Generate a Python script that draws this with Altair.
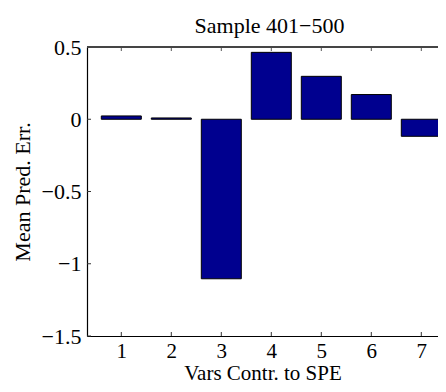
import altair as alt
import pandas as pd

variables = [1, 2, 3, 4, 5, 6, 7]
mean_pred_err = [0.023, 0.009, -1.104, 0.463, 0.297, 0.171, -0.118]
x_ticks = [1, 2, 3, 4, 5, 6, 7]
y_ticks = [-1.5, -1.0, -0.5, 0.0, 0.5]

W, H = 351, 289
FONT = "Liberation Serif"
FS = 22
FSX = 21
BAR_COLOR = "#00008F"

bars_df = pd.DataFrame({"var": variables, "err": mean_pred_err})
xt_df = pd.DataFrame({"t": x_ticks})
yt_df = pd.DataFrame({"t": y_ticks})

x_scale = alt.Scale(domain=[0.314, 7.334], nice=False, zero=False)
y_scale = alt.Scale(domain=[-1.5, 0.5], nice=False)

x_axis = alt.Axis(
    values=x_ticks, format="d", ticks=False, grid=False,
    domainColor="black", domainWidth=1.2,
    labelFont=FONT, labelFontSize=FSX, labelColor="black", labelPadding=4,
    title="Vars Contr. to SPE", titleFont=FONT, titleFontSize=FSX,
    titleFontWeight="normal", titleColor="black", titlePadding=1,
)
y_axis = alt.Axis(
    values=y_ticks, format="~g", ticks=False, grid=False,
    domainColor="black", domainWidth=1.2,
    labelFont=FONT, labelFontSize=FS, labelColor="black", labelPadding=6,
    title="Mean Pred. Err.", titleFont=FONT, titleFontSize=FS,
    titleFontWeight="normal", titleColor="black", titlePadding=7,
)

bars = alt.Chart(bars_df).transform_calculate(
    x0="datum.var - 0.4", x1="datum.var + 0.4", zero="0"
).mark_bar(color=BAR_COLOR, stroke="black", strokeWidth=1).encode(
    x=alt.X("x0:Q", scale=x_scale, axis=x_axis),
    x2="x1:Q",
    y=alt.Y("err:Q", scale=y_scale, axis=y_axis),
    y2="zero:Q",
)

xt_bottom = alt.Chart(xt_df).mark_rule(color="#333", strokeWidth=1).encode(
    x=alt.X("t:Q", scale=x_scale, axis=x_axis),
    y=alt.value(H), y2=alt.value(H - 4),
)
xt_top = alt.Chart(xt_df).mark_rule(color="#555", strokeWidth=1).encode(
    x=alt.X("t:Q", scale=x_scale, axis=x_axis),
    y=alt.value(0), y2=alt.value(4),
)
yt_left = alt.Chart(yt_df).mark_rule(color="#333", strokeWidth=1).encode(
    y=alt.Y("t:Q", scale=y_scale, axis=y_axis),
    x=alt.value(0), x2=alt.value(4),
)
top_border = alt.Chart(xt_df).mark_rule(color="#444", strokeWidth=1.2).encode(
    x=alt.value(0), x2=alt.value(W), y=alt.value(0),
)

chart = alt.layer(bars, xt_bottom, xt_top, yt_left, top_border).properties(
    width=W, height=H,
    title=alt.TitleParams(
        "Sample 401−500", font=FONT, fontSize=FS, fontWeight="normal",
        color="black", anchor="middle", offset=1, dx=7, dy=3,
    ),
    autosize=alt.AutoSizeParams(type="none"),
    padding={"left": 79, "top": 39, "right": 0, "bottom": 48},
).configure_view(stroke=None).configure(background="white")

chart.save("out.html", embed_options={"renderer": "svg", "actions": False})
